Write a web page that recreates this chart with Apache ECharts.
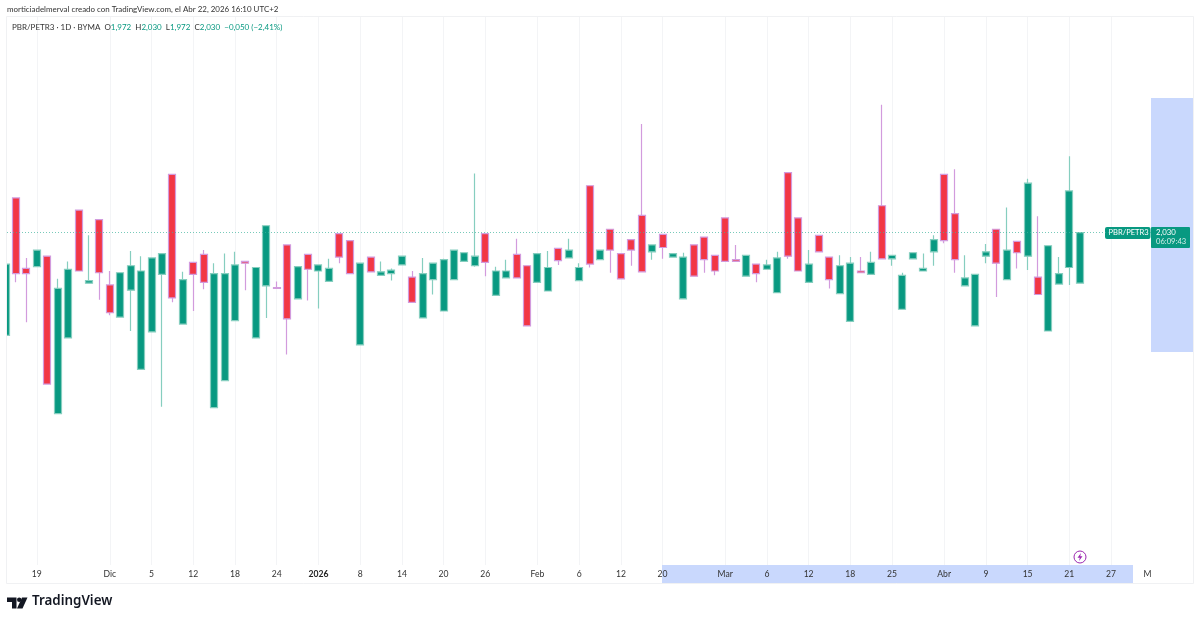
<!DOCTYPE html>
<html>
<head>
<meta charset="utf-8">
<title>PBR/PETR3</title>
<style>
    html,body{margin:0;padding:0;background:#fff;}
    #chart{width:1200px;height:623px;}
</style>
</head>
<body>
<div id="chart"></div>
<script src="https://cdn.jsdelivr.net/npm/echarts@6/dist/echarts.min.js"></script>
<script>
// velas diarias, de izquierda a derecha
var opens = [
    1.912,2.070,1.989,1.991,2.003,1.822,1.909,2.056,1.972,2.045,
    1.970,1.933,1.964,1.873,1.916,1.982,2.097,1.925,1.996,2.005,
    1.829,1.860,1.929,1.997,1.909,1.969,1.967,2.016,1.954,2.005,
    1.986,1.974,2.029,2.021,1.901,2.002,1.981,1.983,1.993,1.979,
    1.932,1.976,1.940,1.976,1.997,1.992,2.029,1.958,1.978,2.005,
    1.992,1.973,1.963,2.012,2.001,1.975,2.084,1.999,2.034,2.006,
    2.022,2.050,2.008,2.028,2.002,1.954,2.016,2.025,2.004,2.047,
    1.999,1.980,1.994,1.988,1.961,2.099,2.047,1.973,2.027,2.002,
    1.960,1.928,1.986,1.982,2.061,2.000,1.942,2.000,1.986,2.008,
    2.097,2.052,1.969,1.923,2.003,2.034,1.976,2.020,2.003,1.979,
    1.917,1.971,1.990,1.972
];
var closes = [
    1.994,1.983,1.983,2.010,1.856,1.966,1.988,1.986,1.975,1.984,
    1.938,1.984,1.992,1.986,2.001,2.006,1.955,1.976,1.982,1.973,
    1.983,1.983,1.993,1.995,1.990,2.038,1.966,1.931,1.991,1.988,
    1.993,1.989,2.002,1.983,1.995,1.985,1.985,1.987,2.003,1.950,
    1.983,1.995,1.999,2.010,2.007,2.003,1.996,1.986,1.986,1.978,
    1.923,2.006,1.990,1.998,2.010,1.990,1.994,2.010,2.010,1.977,
    2.010,1.985,2.016,2.013,2.006,2.002,1.980,1.999,1.986,1.997,
    1.997,2.004,1.983,1.993,2.001,2.003,1.986,1.994,2.008,1.976,
    1.992,1.995,1.984,1.996,2.000,2.004,1.981,2.007,1.989,2.022,
    2.021,1.999,1.978,1.982,2.008,1.995,2.010,2.007,2.087,1.959,
    2.015,1.983,2.078,2.030
];
var lows = [
    1.912,1.973,1.927,1.991,1.856,1.822,1.909,1.986,1.972,1.953,
    1.935,1.933,1.917,1.873,1.916,1.830,1.950,1.925,1.940,1.965,
    1.829,1.860,1.929,1.964,1.909,1.932,1.966,1.890,1.954,1.952,
    1.943,1.974,1.995,1.983,1.901,1.985,1.981,1.975,1.993,1.950,
    1.932,1.959,1.940,1.976,1.997,1.991,1.980,1.958,1.978,1.978,
    1.923,1.973,1.963,1.993,2.001,1.975,1.990,1.999,1.984,1.977,
    1.992,1.985,1.999,2.000,2.002,1.954,1.980,1.984,1.981,1.997,
    1.997,1.980,1.973,1.988,1.961,2.000,1.986,1.973,2.008,1.966,
    1.960,1.928,1.984,1.982,2.000,1.992,1.942,2.000,1.986,1.992,
    2.018,1.984,1.969,1.923,1.995,1.956,1.976,1.989,1.987,1.959,
    1.917,1.971,1.970,1.972
];
var highs = [
    1.994,2.070,2.001,2.010,2.003,1.977,1.997,2.056,2.027,2.045,
    1.986,1.984,2.009,2.003,2.001,2.006,2.097,1.985,1.996,2.010,
    1.995,2.006,2.008,1.997,1.990,2.038,1.974,2.016,1.991,2.005,
    1.993,2.000,2.029,2.021,1.995,2.002,1.997,1.989,2.003,1.986,
    2.001,1.995,2.000,2.010,2.007,2.098,2.029,1.991,1.999,2.023,
    1.992,2.006,2.009,2.012,2.023,1.995,2.084,2.010,2.034,2.006,
    2.022,2.155,2.016,2.028,2.006,2.007,2.016,2.025,2.004,2.047,
    2.016,2.004,1.994,1.999,2.008,2.099,2.047,2.010,2.027,2.002,
    2.004,2.002,2.002,2.008,2.177,2.004,1.984,2.007,2.006,2.027,
    2.097,2.103,2.004,1.982,2.017,2.034,2.059,2.020,2.092,2.049,
    2.015,2.002,2.118,2.030
];
var lastPrice = 2.030;
var tickIndex = [3,10,14,18,22,26,30,34,38,42,46,51,55,59,63,69,73,77,81,85,90,94,98,102,106];
var tickLabels = ['19','Dic','5','12','18','24','2026','8','14','20','26','Feb','6','12','20','Mar','6','12','18','25','Abr','9','15','21','27'];
var endLabelIndex = 109.5;
var endLabel = 'M';

var font = 'Lato, sans-serif';
var candles = opens.map(function(o, i){
    return [i, o, closes[i], lows[i], highs[i]];
});
var labelMap = {};
tickIndex.forEach(function(v, i){ labelMap[v] = tickLabels[i]; });
labelMap[endLabelIndex] = endLabel;

var chart = echarts.init(document.getElementById('chart'), null, {renderer: 'canvas'});
chart.setOption({
    animation: false,
    backgroundColor: '#ffffff',
    grid: {left: 7, top: 17, width: 1144, height: 548},
    title: [
        {
            left: 7, top: 5.5, padding: 0,
            text: 'morticiadelmerval creado con TradingView.com, el Abr 22, 2026 16:10 UTC+2',
            textStyle: {fontFamily: font, fontSize: 7.95, fontWeight: 'normal', color: '#333333'}
        },
        {
            left: 12, top: 23, padding: 0,
            text: 'PBR/PETR3 · 1D · BYMA  O{g|1,972}  H{g|2,030}  L{g|1,972}  C{g|2,030}  {g|−0,050 (−2,41%)}',
            textStyle: {
                fontFamily: font, fontSize: 8, fontWeight: 'normal', color: '#333333',
                rich: {g: {fontFamily: font, fontSize: 8, color: '#089981'}}
            }
        }
    ],
    xAxis: {
        type: 'value',
        min: 0.137,
        max: 109.83,
        axisLine: {show: false},
        axisTick: {show: false, customValues: tickIndex},
        splitLine: {show: true, lineStyle: {color: '#f3f4f6', width: 1}},
        axisLabel: {
            customValues: tickIndex.concat([endLabelIndex]),
            margin: 4.5,
            fontFamily: font,
            fontSize: 8.6,
            color: '#333333',
            formatter: function(v){
                var t = labelMap[v];
                return t === '2026' ? '{b|2026}' : t;
            },
            rich: {b: {fontFamily: font, fontSize: 8.6, fontWeight: 'bold', color: '#222222'}}
        }
    },
    yAxis: {
        type: 'value',
        min: 1.648,
        max: 2.278,
        show: false,
        splitLine: {show: false}
    },
    series: [{
        type: 'candlestick',
        data: candles,
        encode: {x: 0, y: [1, 2, 3, 4]},
        barWidth: 7.5,
        itemStyle: {
            color: '#089981',
            color0: '#F23645',
            borderColor: '#86CEBF',
            borderColor0: '#D29BDD',
            borderWidth: 1.2
        },
        markLine: {
            silent: true,
            symbol: 'none',
            label: {show: false},
            lineStyle: {color: '#3fb39c', type: [1, 2], width: 1, opacity: 0.7},
            data: [{yAxis: lastPrice}]
        }
    }],
    graphic: [
        // tapa lo que sale del panel por la izquierda
        {type: 'rect', z: 5, shape: {x: 0, y: 17, width: 6.5, height: 548}, style: {fill: '#ffffff'}},
        // marco
        {type: 'rect', z: 6, shape: {x: 6.5, y: 16.5, width: 1187, height: 567}, style: {fill: 'none', stroke: '#f0f1f3', lineWidth: 1}},
        // franjas azules de la escala
        {type: 'rect', z: 0, shape: {x: 1151, y: 98, width: 42, height: 254}, style: {fill: '#c9d8fd'}},
        {type: 'rect', z: 0, shape: {x: 662, y: 565, width: 471, height: 18}, style: {fill: '#c9d8fd'}},
        // etiquetas del ultimo precio
        {type: 'rect', z: 5, shape: {x: 1105, y: 227, width: 45.5, height: 12, r: 2}, style: {fill: '#089981'}},
        {type: 'text', z: 6, x: 1108.5, y: 229, style: {text: 'PBR/PETR3', fill: '#ffffff', font: '7.6px ' + font}},
        {type: 'rect', z: 5, shape: {x: 1151, y: 227, width: 39, height: 21, r: 1}, style: {fill: '#089981'}},
        {type: 'text', z: 6, x: 1156, y: 228.5, style: {text: '2,030', fill: '#ffffff', font: '7.8px ' + font}},
        {type: 'text', z: 6, x: 1156, y: 238, style: {text: '06:09:43', fill: '#d5efe9', font: '7.6px ' + font}},
        // icono de evento
        {type: 'circle', z: 6, shape: {cx: 1080, cy: 557, r: 6}, style: {fill: '#ffffff', stroke: '#9c27b0', lineWidth: 1}},
        {type: 'polygon', z: 7, shape: {points: [[1081,553],[1077.5,557.8],[1079.8,557.8],[1079,561],[1082.5,556.2],[1080.2,556.2]]}, style: {fill: '#9c27b0'}},
        // logo
        {type: 'polygon', z: 6, shape: {points: [[7,597.5],[16.5,597.5],[16.5,608.5],[12,608.5],[12,602],[7,602]]}, style: {fill: '#131722'}},
        {type: 'circle', z: 6, shape: {cx: 19.2, cy: 599.8, r: 2.2}, style: {fill: '#131722'}},
        {type: 'polygon', z: 6, shape: {points: [[22,597.5],[27.5,597.5],[22.5,608.5],[17,608.5]]}, style: {fill: '#131722'}},
        {type: 'text', z: 6, x: 32, y: 595, style: {text: 'TradingView', fill: '#131722', font: '600 13.4px "Noto Sans", sans-serif'}}
    ]
});
</script>
</body>
</html>
